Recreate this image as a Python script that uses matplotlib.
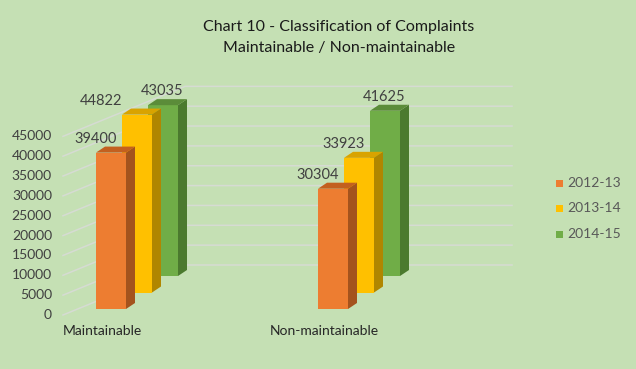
import matplotlib.pyplot as plt
from matplotlib.patches import Polygon, Rectangle

# data
categories = ['Maintainable', 'Non-maintainable']
years = ['2012-13', '2013-14', '2014-15']
values = [
    [39400, 30304],   # 2012-13
    [44822, 33923],   # 2013-14
    [43035, 41625],   # 2014-15
]
ticks = list(range(0, 45001, 5000))

# colours per series: front, side, top
front_cols = ['#ED7D31', '#FFC000', '#70AD47']
side_cols = ['#A4531D', '#B08600', '#4B7A2E']
top_cols = ['#C3601F', '#D9A300', '#5B8C39']
bg = '#C5E0B4'
grid_col = '#D6DBD3'

plt.rcParams['font.family'] = ['Lato', 'DejaVu Sans']

# layout in pixels (figure 636x369 at dpi 100)
W, H = 636, 369
X0_PX = 137        # centre of middle bar in first category
CAT_PX = 222       # category spacing
BASE_PX = 309      # pixel row of value 0 for front series
PX_PER_UNIT = 3.97 / 1000
SER_DX, SER_DY = 26, 16.5   # depth shift between series
BAR_W = 30
DEPTH_X, DEPTH_Y = 9, 6


def px2x(p):
    return p / CAT_PX


def px2y(p):
    return p / PX_PER_UNIT


fig = plt.figure(figsize=(W / 100, H / 100), dpi=100, facecolor=bg)
ax = fig.add_axes([0, 0, 1, 1])
ax.set_facecolor(bg)
ax.set_xlim(-X0_PX / CAT_PX, (W - X0_PX) / CAT_PX)
ax.set_ylim(-px2y(H - BASE_PX), px2y(BASE_PX))
ax.axis('off')

# gridlines: diagonal side wall then flat back wall
fx, bx, ex = px2x(63 - X0_PX), px2x(185 - X0_PX), px2x(512 - X0_PX)
for v in ticks:
    yf = v - px2y(6)
    yb = v + px2y(44)
    ax.plot([fx, bx, ex], [yf, yb, yb], color=grid_col, lw=1.1, zorder=1)
    ax.text(px2x(52 - X0_PX), yf, str(v), ha='right', va='center',
            fontsize=10, color='#404040')

# bars, back series first
label_nudge = {(1, 0): -21}
label_dx = [0, 0, 14]
for i in reversed(range(len(years))):
    z = 10 - i * 2
    bottom = px2y(SER_DY * i)
    xs = [c + px2x((i - 1) * SER_DX) for c in range(len(categories))]
    ax.bar(xs, values[i], width=px2x(BAR_W), bottom=bottom,
           color=front_cols[i], zorder=z, linewidth=0)
    for j, x in enumerate(xs):
        v = values[i][j]
        l, r = x - px2x(BAR_W) / 2, x + px2x(BAR_W) / 2
        t = bottom + v
        ddx, ddy = px2x(DEPTH_X), px2y(DEPTH_Y)
        ax.add_patch(Polygon([(r, bottom), (r, t), (r + ddx, t + ddy),
                              (r + ddx, bottom + ddy)],
                             closed=True, color=side_cols[i], lw=0, zorder=z))
        ax.add_patch(Polygon([(l, t), (r, t), (r + ddx, t + ddy), (l + ddx, t + ddy)],
                             closed=True, color=top_cols[i], lw=0, zorder=z))
        lx = l + px2x(label_dx[i] + label_nudge.get((i, j), 0))
        ax.text(lx, t + px2y(14), str(v), ha='center', va='center',
                fontsize=10.5, color='#404040', zorder=20)

# category labels
for j, name in enumerate(categories):
    ax.text(j - px2x(35), -px2y(22), name, ha='center', va='center',
            fontsize=10, color='#262626')

# legend drawn by hand
for k, (name, col) in enumerate(zip(years, front_cols)):
    yc = 183 + k * 25.5
    fig.patches.append(Rectangle((556 / W, 1 - (yc + 3.5) / H), 7 / W, 7 / H,
                                 transform=fig.transFigure, color=col, lw=0))
    fig.text(567 / W, 1 - yc / H, name, ha='left', va='center',
             fontsize=10, color='#595959')

fig.text(339 / W, 1 - 27 / H, 'Chart 10 - Classification of Complaints',
         ha='center', va='center', fontsize=11.5, color='#1a1a1a')
fig.text(339 / W, 1 - 48 / H, 'Maintainable / Non-maintainable',
         ha='center', va='center', fontsize=11.5, color='#1a1a1a')

fig.savefig('out.png', dpi=100, facecolor=bg)
